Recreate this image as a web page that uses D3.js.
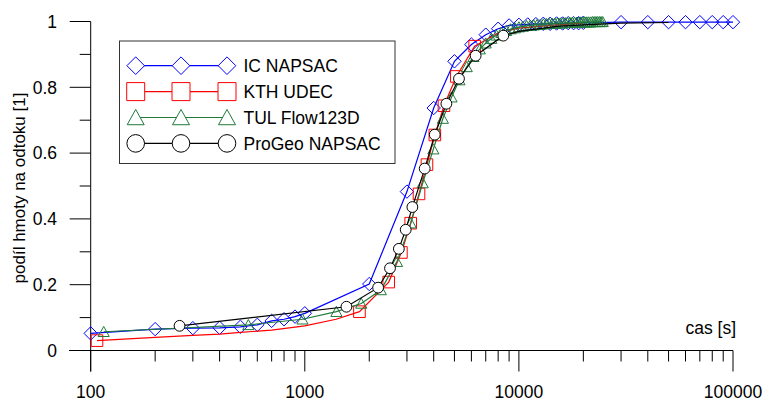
<!DOCTYPE html>
<html>
<head>
<meta charset="utf-8">
<script src="https://cdn.jsdelivr.net/npm/d3@7"></script>
<style>
  body { margin: 0; background: #fff; }
  svg { display: block; font-family: Arial, "Liberation Sans", sans-serif; }
</style>
</head>
<body>
<svg id="chart" width="766" height="401"></svg>
<script>
// data: [cas s, podil]
const icNapsac = [
  [100, 0.052], [200, 0.065], [300, 0.068], [400, 0.069], [500, 0.072], [600, 0.078],
  [700, 0.090], [800, 0.095], [900, 0.103], [1000, 0.113], [2000, 0.202], [3000, 0.483],
  [4000, 0.737], [5000, 0.879], [6000, 0.930], [7000, 0.960], [8000, 0.978], [9000, 0.988],
  [10000, 0.990], [11000, 0.991], [12000, 0.992], [13000, 0.993], [14000, 0.993], [15000, 0.994],
  [16000, 0.994], [17000, 0.995], [18000, 0.995], [19000, 0.995], [20000, 0.996],
  [30000, 0.998], [40000, 0.998], [50000, 0.998], [60000, 0.998], [70000, 0.998],
  [80000, 0.998], [90000, 0.998], [100000, 0.998]
];

// KTH UDEC: line points, markers only at some of them
const kthLine = [
  [107, 0.030], [200, 0.040], [300, 0.046], [400, 0.050], [500, 0.055], [700, 0.062],
  [1000, 0.075], [1400, 0.095], [1800, 0.118], [2466, 0.208], [2826, 0.298], [3124, 0.387],
  [3415, 0.476], [3720, 0.565], [4050, 0.655], [4467, 0.744], [5103, 0.833], [6214, 0.925],
  [8000, 0.965], [10000, 0.980], [15000, 0.990], [20000, 0.995]
];
const kthMarks = [
  [107, 0.030], [1800, 0.118], [2466, 0.208], [2826, 0.298], [3124, 0.387], [3415, 0.476],
  [3720, 0.565], [4050, 0.655], [4467, 0.744], [5103, 0.833], [6214, 0.925]
];

const tulFlow = [
  [115, 0.057], [545, 0.078], [975, 0.095], [1405, 0.118], [1835, 0.143], [2265, 0.184],
  [2695, 0.270], [3125, 0.387], [3555, 0.509], [3985, 0.612], [4415, 0.705], [4845, 0.770],
  [5275, 0.822], [5705, 0.862], [6135, 0.893], [6565, 0.916], [6995, 0.934], [7425, 0.948],
  [7855, 0.958], [8285, 0.966], [8715, 0.972], [9145, 0.977], [9575, 0.980], [10005, 0.983],
  [10435, 0.985], [10865, 0.987], [11295, 0.988], [11725, 0.989], [12155, 0.990], [12585, 0.991],
  [13015, 0.992], [13445, 0.993], [13875, 0.993], [14305, 0.994], [14735, 0.994], [15165, 0.995],
  [15595, 0.995], [16025, 0.995], [16455, 0.996], [16885, 0.996], [17315, 0.996], [17745, 0.997],
  [18175, 0.997], [18605, 0.997], [19035, 0.997], [19465, 0.998], [19895, 0.998], [20325, 0.998],
  [20755, 0.998], [21185, 0.998], [21615, 0.998], [22045, 0.999], [22475, 0.999], [22905, 0.999],
  [23335, 0.999], [23765, 0.999], [24195, 0.999], [24625, 0.999]
];

const progeoLine = [
  [260, 0.075], [1565, 0.133], [2200, 0.191], [2500, 0.250], [2750, 0.309], [2960, 0.367],
  [3180, 0.436], [3631, 0.553], [4045, 0.656], [4585, 0.750], [5250, 0.826], [6280, 0.896],
  [8455, 0.957], [10000, 0.970], [15000, 0.985], [20000, 0.990], [30000, 0.995], [50000, 0.997]
];
const progeoMarks = [
  [260, 0.075], [1565, 0.133], [2200, 0.191], [2500, 0.250], [2750, 0.309], [2960, 0.367],
  [3180, 0.436], [3631, 0.553], [4045, 0.656], [4585, 0.750], [5250, 0.826], [6280, 0.896],
  [8455, 0.957]
];

const xMajor = [100, 1000, 10000, 100000];
const yMajor = [0, 0.2, 0.4, 0.6, 0.8, 1];
const yMinor = [0.1, 0.3, 0.5, 0.7, 0.9];
const legendNames = ["IC NAPSAC", "KTH UDEC", "TUL Flow123D", "ProGeo NAPSAC"];

const svg = d3.select("#chart");
const x = d3.scaleLog().domain([100, 100000]).range([90.7, 733]);
const y = d3.scaleLinear().domain([0, 1]).range([350.5, 21.5]);

const series = [
  { line: icNapsac, marks: icNapsac, color: "#0000ff", shape: "diamond" },
  { line: kthLine, marks: kthMarks, color: "#ff0000", shape: "square" },
  { line: tulFlow, marks: tulFlow, color: "#1f7a3a", shape: "triangle" },
  { line: progeoLine, marks: progeoMarks, color: "#000000", shape: "circle" }
];

// tvar znacky, s = polovicni velikost
function markerPath(shape, s) {
  if (shape === "diamond") return `M0,${-s}L${s},0L0,${s}L${-s},0Z`;
  if (shape === "square") return `M${-s},${-s}H${s}V${s}H${-s}Z`;
  if (shape === "triangle") return `M0,${-s * 0.95}L${s},${s * 0.85}L${-s},${s * 0.85}Z`;
  return d3.symbol(d3.symbolCircle, Math.PI * s * s)();
}
const plotSize = { diamond: 6.7, square: 5.8, triangle: 5.6, circle: 5.4 };
const legSize = { diamond: 8.8, square: 9, triangle: 8.5, circle: 8.8 };

// osy
const axis = svg.append("g").attr("stroke", "#000").attr("stroke-width", 1);
axis.append("line").attr("x1", 69).attr("x2", x(100000)).attr("y1", y(0)).attr("y2", y(0));
axis.append("line").attr("x1", x(100)).attr("x2", x(100)).attr("y1", y(1)).attr("y2", y(0) + 21);

const xMinor = [];
xMajor.slice(0, -1).forEach(d => { for (let k = 2; k <= 9; k++) xMinor.push(d * k); });

axis.selectAll(".xmaj").data(xMajor).join("line")
  .attr("x1", d => x(d)).attr("x2", d => x(d))
  .attr("y1", y(0)).attr("y2", y(0) + 21);
axis.selectAll(".xmin").data(xMinor).join("line")
  .attr("class", "xmin")
  .attr("x1", d => x(d)).attr("x2", d => x(d))
  .attr("y1", y(0)).attr("y2", y(0) + 11);
axis.selectAll(".ymaj").data(yMajor).join("line")
  .attr("class", "ymaj")
  .attr("x1", x(100) - 21).attr("x2", x(100))
  .attr("y1", d => y(d)).attr("y2", d => y(d));
axis.selectAll(".ymin").data(yMinor).join("line")
  .attr("class", "ymin")
  .attr("x1", x(100) - 11).attr("x2", x(100))
  .attr("y1", d => y(d)).attr("y2", d => y(d));

svg.append("g").selectAll("text").data(xMajor).join("text")
  .attr("x", d => x(d)).attr("y", 398)
  .attr("text-anchor", "middle").attr("font-size", 17.5)
  .text(d => d);
svg.append("g").selectAll("text").data(yMajor).join("text")
  .attr("x", 57).attr("y", d => y(d)).attr("dy", "0.36em")
  .attr("text-anchor", "end").attr("font-size", 17.5)
  .text(d => d);

svg.append("text").attr("x", 736).attr("y", 334)
  .attr("text-anchor", "end").attr("font-size", 17.5).text("cas [s]");
svg.append("text")
  .attr("transform", "translate(25,188) rotate(-90)")
  .attr("text-anchor", "middle").attr("font-size", 17).text("podíl hmoty na odtoku [1]");

// krivky
const line = d3.line().x(d => x(d[0])).y(d => y(d[1]));
series.forEach(s => {
  const g = svg.append("g");
  g.append("path").attr("d", line(s.line))
    .attr("fill", "none").attr("stroke", s.color).attr("stroke-width", 1.2);
  g.selectAll("path.m").data(s.marks).join("path")
    .attr("class", "m")
    .attr("transform", d => `translate(${x(d[0])},${y(d[1])})`)
    .attr("d", markerPath(s.shape, plotSize[s.shape]))
    .attr("fill", s.shape === "circle" ? "#fff" : "none")
    .attr("stroke", s.color).attr("stroke-width", 1);
});

// legenda
const leg = svg.append("g");
leg.append("rect").attr("x", 119.5).attr("y", 41).attr("width", 275.5).attr("height", 122.5)
  .attr("fill", "#fff").attr("stroke", "#333").attr("stroke-width", 1);
const legX = [135.7, 181, 227];
series.forEach((s, i) => {
  const ly = 65.7 + i * 25.9;
  const sz = legSize[s.shape];
  leg.append("line").attr("x1", legX[0]).attr("x2", legX[2]).attr("y1", ly).attr("y2", ly)
    .attr("stroke", s.color).attr("stroke-width", 1.2);
  legX.forEach(lx => {
    leg.append("path").attr("transform", `translate(${lx},${ly})`)
      .attr("d", markerPath(s.shape, sz))
      .attr("fill", "#fff").attr("stroke", s.color).attr("stroke-width", 1);
  });
  leg.append("text").attr("x", 243.5).attr("y", ly).attr("dy", "0.36em")
    .attr("font-size", 17.5).text(legendNames[i]);
});
</script>
</body>
</html>
